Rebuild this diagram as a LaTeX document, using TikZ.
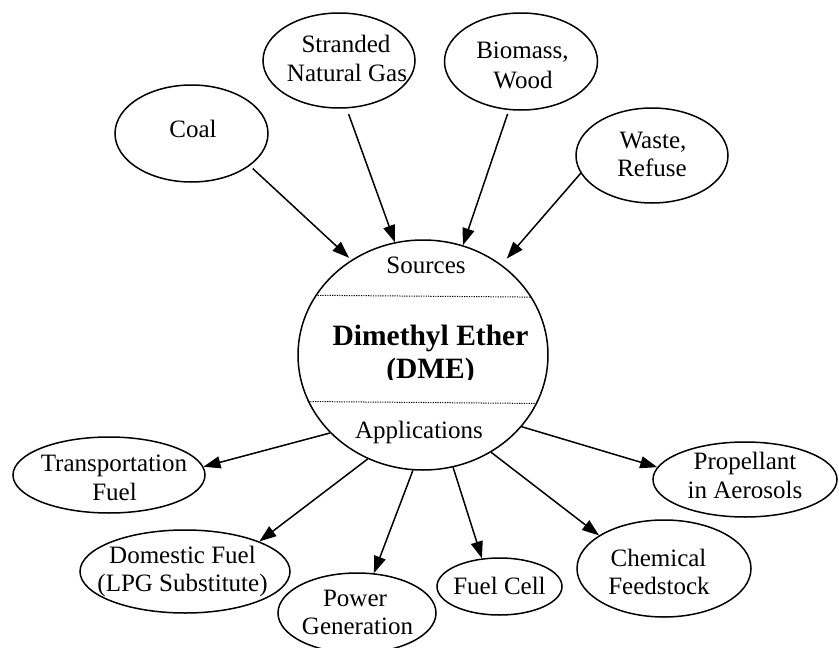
\documentclass[tikz,border=0pt]{standalone}
\usepackage{fontspec}
\setmainfont{Liberation Serif}
\usetikzlibrary{arrows.meta,shapes.geometric}
\tikzset{
  ell/.style={draw, ellipse, line width=1.5pt, inner sep=0pt},
  txt/.style={font=\fontsize{25}{29}\selectfont, anchor=base, inner sep=0pt},
  boldtxt/.style={font=\fontsize{29.5}{33}\selectfont\bfseries, anchor=base, inner sep=0pt},
  arr/.style={line width=1.5pt, -{Triangle[length=17pt,width=12pt]}},
  divider/.style={line width=1pt, dash pattern=on 1.2pt off 1.2pt}
}
\begin{document}
\begin{tikzpicture}[x=1pt,y=-1pt]
\useasboundingbox (0,0) rectangle (839,648);
% central circle
\node[ell, minimum width=250pt, minimum height=230pt] (dme) at (423,355) {};
\draw[divider] (dme.151.2) -- (dme.28.8);
\draw[divider] (dme.202.9) -- (dme.337.1);
\node[txt] (src) at (426,273) {Sources};
\node[boldtxt] (dmet1) at (430.5,345) {Dimethyl Ether};
\begin{scope}
\clip (300,300) rectangle (560,379);
\node[boldtxt] (dmet2) at (430.5,378) {(DME)};
\end{scope}
\node[txt] (appl) at (419,438) {Applications};
% sources
\node[ell, minimum width=153pt, minimum height=97pt] (coal) at (191.5,133.5) {};
\node[txt] (coalt) at (193,137) {Coal};
\node[ell, minimum width=152pt, minimum height=95pt] (gas) at (339,60.5) {};
\node[txt] (gast1) at (346,52) {Stranded};
\node[txt] (gast2) at (347,81) {Natural Gas};
\node[ell, minimum width=153pt, minimum height=97pt] (bio) at (521,61.5) {};
\node[txt] (biot1) at (522.5,58.5) {Biomass,};
\node[txt] (biot2) at (523,88) {Wood};
\node[ell, minimum width=152pt, minimum height=95pt] (waste) at (652,155.5) {};
\node[txt] (wastet1) at (653,148) {Waste,};
\node[txt] (wastet2) at (652,176.5) {Refuse};
% applications
\node[ell, minimum width=192pt, minimum height=76pt] (trans) at (109,475) {};
\node[txt] (transt1) at (114,471.5) {Transportation};
\node[txt] (transt2) at (114.5,500.5) {Fuel};
\node[ell, minimum width=210pt, minimum height=83pt] (dom) at (185,571.5) {};
\node[txt] (domt1) at (182.5,563) {Domestic Fuel};
\node[txt] (domt2) at (182.5,591) {(LPG Substitute)};
\node[ell, minimum width=158pt, minimum height=80pt] (power) at (357,613) {};
\node[txt] (powert1) at (355,606.5) {Power};
\node[txt] (powert2) at (357.5,634.5) {Generation};
\node[ell, minimum width=125pt, minimum height=57pt] (cell) at (499.5,586.5) {};
\node[txt] (cellt) at (499.5,594) {Fuel Cell};
\node[ell, minimum width=174pt, minimum height=97pt] (chem) at (664,568.5) {};
\node[txt] (chemt1) at (658.5,566) {Chemical};
\node[txt] (chemt2) at (659,594) {Feedstock};
\node[ell, minimum width=184pt, minimum height=75pt] (prop) at (745,479.5) {};
\node[txt] (propt1) at (745,469.5) {Propellant};
\node[txt] (propt2) at (745,498) {in Aerosols};
% source arrows
\draw[arr, shorten <=4pt, shorten >=3pt] (coal.331) -- (dme.127);
\draw[arr, shorten <=6pt] (gas.279) -- (dme.104);
\draw[arr, shorten <=4pt] (bio.256) -- (dme.70);
\draw[arr, shorten >=8pt] (waste.194) -- (dme.49);
% application arrows
\draw[arr] (dme.220) -- (trans.5);
\draw[arr] (dme.242) -- (dom.22);
\draw[arr] (dme.265) -- (power.67);
\draw[arr] (dme.285) -- (cell.122);
\draw[arr] (dme.305) -- (chem.153);
\draw[arr] (dme.324) -- (prop.172);
\end{tikzpicture}
\end{document}
